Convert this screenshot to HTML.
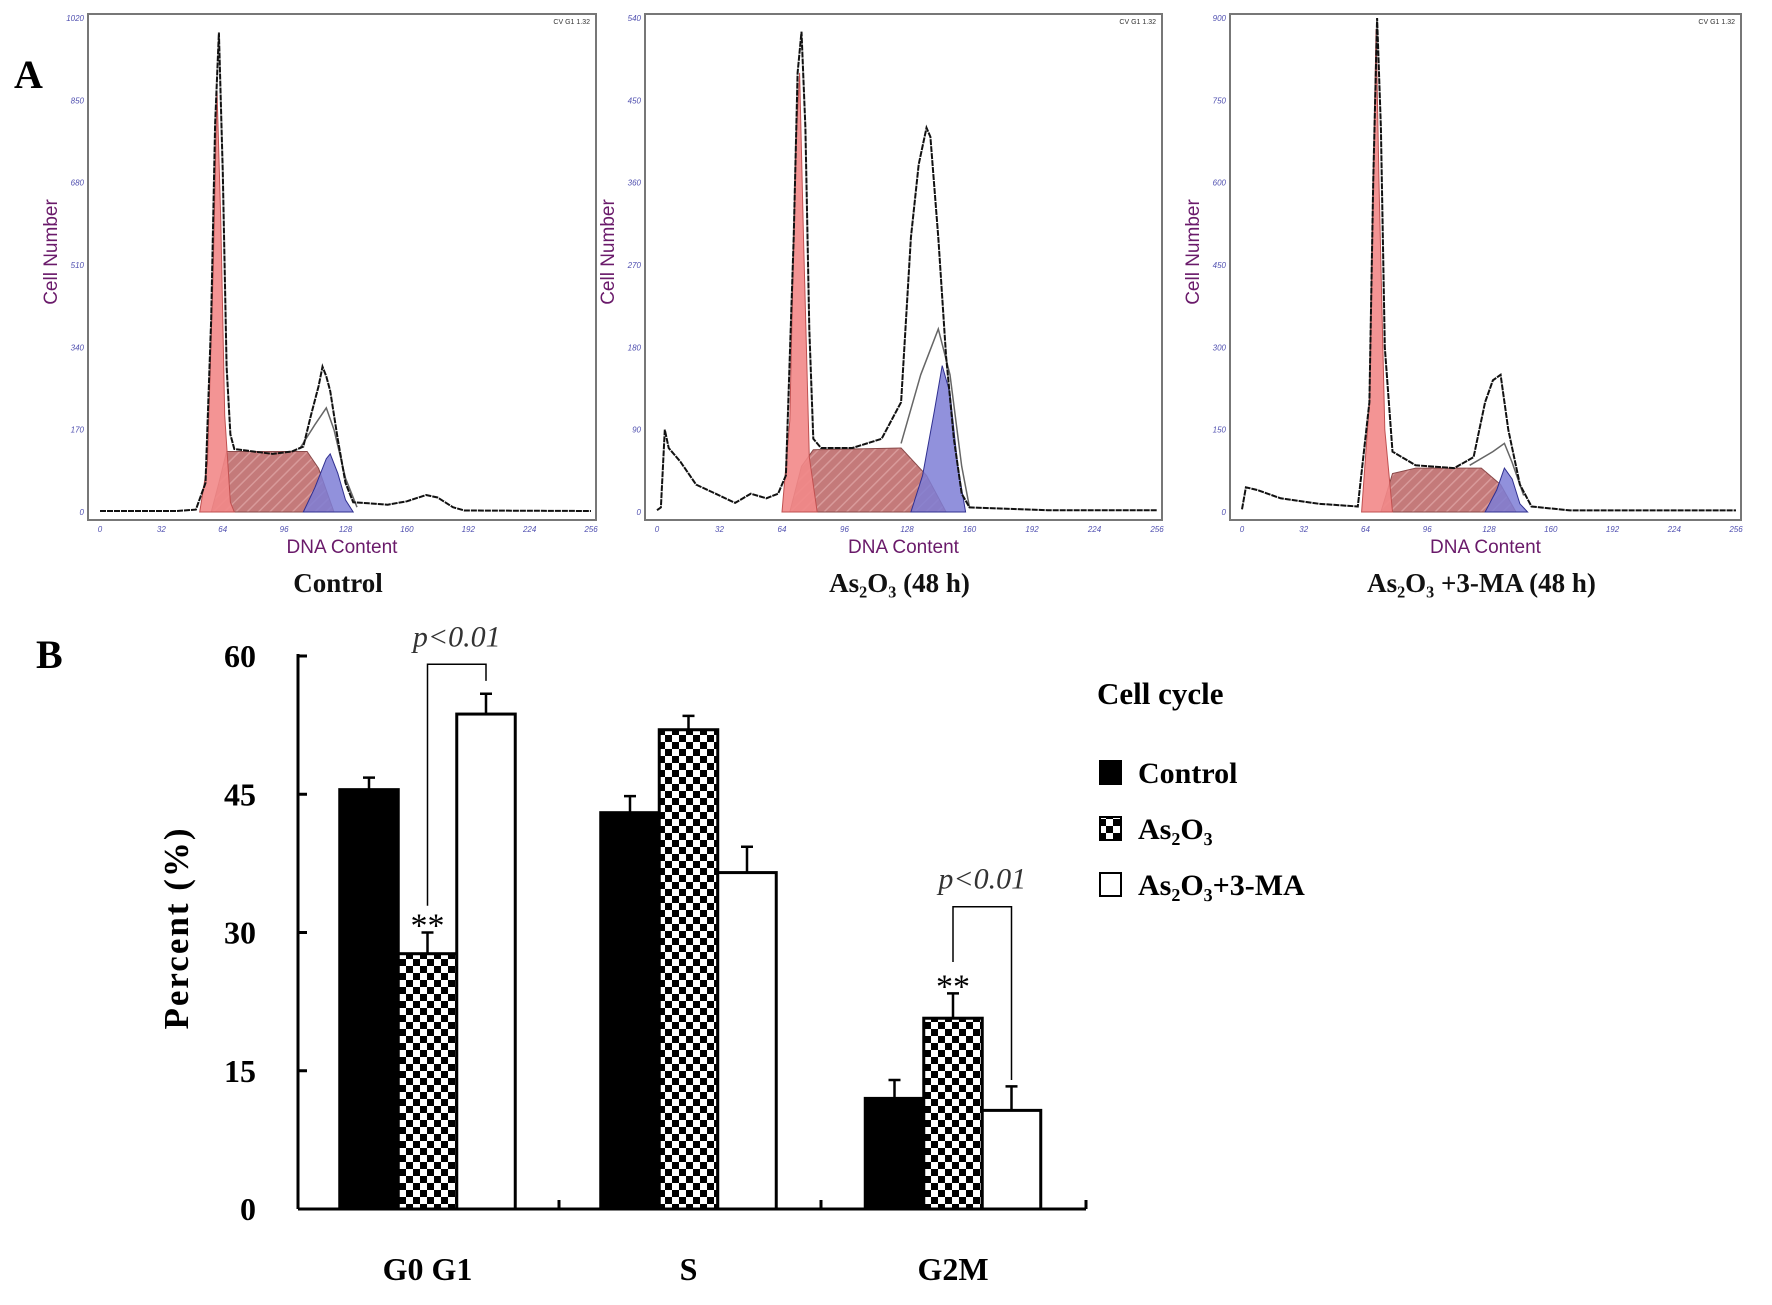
<!DOCTYPE html>
<html><head><meta charset="utf-8"><style>
html,body{margin:0;padding:0;background:#fff;}
svg{display:block;}
</style></head><body>
<svg id="fig" width="1772" height="1305" viewBox="0 0 1772 1305" xmlns="http://www.w3.org/2000/svg">
<defs>
<pattern id="checker" width="14" height="14" patternUnits="userSpaceOnUse">
<rect width="14" height="14" fill="#fff"/><rect width="7" height="7" fill="#000"/><rect x="7" y="7" width="7" height="7" fill="#000"/>
</pattern>
<pattern id="hatch" width="8" height="8" patternUnits="userSpaceOnUse" patternTransform="rotate(45)">
<rect width="8" height="8" fill="#c47a7a"/><line x1="0" y1="0" x2="0" y2="8" stroke="#d89a9a" stroke-width="3"/>
</pattern>
</defs>
<text x="14" y="88" font-family="Liberation Serif, serif" font-weight="bold" font-size="40">A</text>
<text x="36" y="668" font-family="Liberation Serif, serif" font-weight="bold" font-size="40">B</text>
<g id="hists"></g>
<g id="bars"></g>
</svg>
<script>
// ---------- Histogram data (A) ----------
const xTicks=[0,32,64,96,128,160,192,224,256];
const p1YTicks=[0,170,340,510,680,850,1020];
const p2YTicks=[0,90,180,270,360,450,540];
const p3YTicks=[0,150,300,450,600,750,900];
const p1Trace=[[0,2],[40,2],[50,5],[55,60],[58,400],[60,800],[62,990],[64,700],[66,300],[68,160],[70,130],[80,125],[90,120],[100,125],[106,135],[110,200],[114,260],[116,300],[118,280],[120,250],[124,150],[128,60],[132,20],[140,18],[150,15],[160,22],[170,35],[176,30],[184,10],[190,3],[256,2]];
const p1G1=[[52,0],[56,100],[59,500],[61,870],[63,600],[65,200],[68,20],[70,0]];
const p1S=[[58,0],[62,60],[66,125],[108,125],[114,90],[122,0]];
const p1G2=[[106,0],[112,50],[118,110],[120,120],[124,80],[128,25],[132,0]];
const p1Fit=[[104,130],[112,180],[118,215],[122,170],[128,70],[134,10]];
const p2Trace=[[0,2],[2,5],[4,90],[6,70],[12,55],[20,30],[30,20],[40,10],[48,20],[56,15],[62,20],[66,40],[70,300],[72,480],[74,525],[76,420],[78,200],[80,80],[84,70],[100,70],[115,80],[125,120],[130,300],[134,380],[138,420],[140,410],[144,300],[148,170],[152,80],[156,20],[160,5],[200,2],[256,2]];
const p2G1=[[64,0],[68,100],[71,400],[73,480],[75,300],[78,60],[82,0]];
const p2S=[[68,0],[74,50],[80,68],[125,70],[138,40],[148,0]];
const p2G2=[[130,0],[136,40],[142,110],[146,160],[150,130],[154,50],[158,0]];
const p2Fit=[[125,75],[135,150],[144,200],[150,150],[156,50],[160,5]];
const p3Trace=[[0,5],[2,45],[8,40],[20,25],[40,15],[60,10],[66,200],[68,600],[70,900],[72,700],[74,300],[78,110],[90,85],[110,80],[120,100],[126,200],[130,240],[134,250],[138,150],[144,50],[150,10],[170,3],[256,3]];
const p3G1=[[62,0],[66,200],[68,600],[69.5,880],[71,600],[74,150],[78,0]];
const p3S=[[72,0],[78,70],[90,80],[124,80],[134,50],[142,0]];
const p3G2=[[126,0],[132,40],[136,80],[140,60],[144,15],[148,0]];
const p3Fit=[[118,85],[130,110],[136,125],[140,90],[146,30]];
const captions=["Control","As₂O₃ (48 h)","As₂O₃ +3-MA (48 h)"];

// ---------- Bar data (B) ----------
const categories=["G0 G1","S","G2M"];
const seriesNames=["Control","As₂O₃","As₂O₃+3-MA"];
const controlVals=[45.5,43,12];
const as2o3Vals=[27.7,52,20.7];
const maVals=[53.7,36.5,10.7];
const controlErr=[1.3,1.8,2];
const as2o3Err=[2.3,1.5,2.7];
const maErr=[2.2,2.8,2.6];
const yTickVals=[0,15,30,45,60];
// brackets: [category, top value, left leg bottom value, right leg bottom value]
const bracketG0=[0,59.1,32.9,57.3];
const bracketG2M=[2,32.8,26.8,14];

const NS="http://www.w3.org/2000/svg";
function mk(tag,attrs,parent,text){const e=document.createElementNS(NS,tag);for(const k in attrs)e.setAttribute(k,attrs[k]);if(text!==undefined)e.textContent=text;parent.appendChild(e);return e;}

const hg=document.getElementById('hists');
const panels=[
 {box:[88,14,596,520],yt:p1YTicks,tr:p1Trace,g1:p1G1,s:p1S,g2:p1G2,fit:p1Fit},
 {box:[645,14,1162,520],yt:p2YTicks,tr:p2Trace,g1:p2G1,s:p2S,g2:p2G2,fit:p2Fit},
 {box:[1230,14,1741,520],yt:p3YTicks,tr:p3Trace,g1:p3G1,s:p3S,g2:p3G2,fit:p3Fit}
];
panels.forEach((p,i)=>{
 const [L,T,R,B]=p.box;
 const g=mk('g',{},hg);
 
 
 const x0=L+12,x1=R-5,y0=B-8,y1=T+4;
 const ymax=p.yt[p.yt.length-1];
 const sx=v=>x0+(v/256)*(x1-x0);
 const sy=v=>y0-(v/ymax)*(y0-y1);
 const pts=a=>a.map(q=>sx(q[0]).toFixed(1)+','+sy(q[1]).toFixed(1)).join(' ');
 const box=mk('rect',{x:L,y:T,width:R-L,height:B-T,fill:'#fff',stroke:'#777','stroke-width':2},g);
 
 const s=mk('polygon',{points:pts(p.s),fill:'url(#hatch)',stroke:'#8a4a4a','stroke-width':1},g);
 
 const g1=mk('polygon',{points:pts(p.g1),fill:'#f28888','fill-opacity':0.9,stroke:'#c05050','stroke-width':1},g);
 
 const g2=mk('polygon',{points:pts(p.g2),fill:'#7e7ed6','fill-opacity':0.85,stroke:'#303090','stroke-width':1},g);
 
 const fit=mk('polyline',{points:pts(p.fit),fill:'none',stroke:'#666','stroke-width':1.5},g);
 
 const tr=mk('polyline',{points:pts(p.tr),fill:'none',stroke:'#111','stroke-width':2,'stroke-dasharray':'6,1'},g);
 
 xTicks.forEach(v=>{const t=mk('text',{x:sx(v),y:B+12,'font-family':'Liberation Sans, sans-serif','font-size':8,'font-style':'italic',fill:'#5050b0','text-anchor':'middle'},g,String(v));
  });
 p.yt.forEach(v=>{const t=mk('text',{x:L-4,y:sy(v)+3,'font-family':'Liberation Sans, sans-serif','font-size':8,'font-style':'italic',fill:'#5050b0','text-anchor':'end'},g,String(v));
  });
 const cv=mk('text',{x:R-6,y:T+10,'font-family':'Liberation Sans, sans-serif','font-size':7,fill:'#333','text-anchor':'end'},g,'CV G1 1.32');
 
 const xl=mk('text',{x:(L+R)/2,y:553,'font-family':'Liberation Sans, sans-serif','font-size':19,fill:'#6a1a6a','text-anchor':'middle'},g,'DNA Content');
 
 const yl=mk('text',{x:0,y:0,'font-family':'Liberation Sans, sans-serif','font-size':19,fill:'#6a1a6a','text-anchor':'middle',transform:`translate(${L-31},${(T+B)/2-15}) rotate(-90)`},g,'Cell Number');
 
 const cap=mk('text',{x:(L+R)/2-4,y:592,'font-family':'Liberation Serif, serif','font-weight':'bold','font-size':27,fill:'#111','text-anchor':'middle'},g,captions[i]);
 
});

// ---------- Bar chart ----------
const bg=document.getElementById('bars');
const AX=298,AY0=1209,AY60=656,AXR=1086;
const y=v=>AY0-(v/60)*(AY0-AY60);
const groupCenters=[427.5,688.5,953];
const BW=58.5;
const F='Liberation Serif, serif';
yTickVals.forEach(v=>{
 const t=mk('line',{x1:AX,x2:AX+9,y1:y(v),y2:y(v),stroke:'#000','stroke-width':3},bg);
 
 const l=mk('text',{x:256,y:y(v)+11,'font-family':F,'font-weight':'bold','font-size':32,'text-anchor':'end'},bg,String(v));
 
});
const yt=mk('text',{x:0,y:0,'font-family':F,'font-weight':'bold','font-size':35,'text-anchor':'middle',transform:'translate(188,928) rotate(-90)','letter-spacing':'2'},bg,'Percent (%)');

const sets=[[controlVals,controlErr,'#000','bar-control'],[as2o3Vals,as2o3Err,'url(#checker)','bar-as2o3'],[maVals,maErr,'#fff','bar-as2o3-3ma']];
categories.forEach((c,ci)=>{
 sets.forEach((s,si)=>{
  const xl=groupCenters[ci]+(si-1.5)*BW;
  const v=s[0][ci],e=s[1][ci];
  const r=mk('rect',{x:xl,y:y(v),width:BW,height:AY0-y(v),fill:s[2],stroke:'#000','stroke-width':3},bg);
  
  const cx=xl+BW/2;
  const eb=mk('path',{d:`M${cx},${y(v)} V${y(v+e)} M${cx-6},${y(v+e)} H${cx+6}`,stroke:'#000','stroke-width':2.5,fill:'none'},bg);
  
 });
 const l=mk('text',{x:groupCenters[ci],y:1280,'font-family':F,'font-weight':'bold','font-size':32,'text-anchor':'middle'},bg,c);
 
});
const xa=mk('line',{x1:AX,x2:AXR,y1:AY0,y2:AY0,stroke:'#000','stroke-width':3},bg);

const ya=mk('line',{x1:AX,x2:AX,y1:AY60-2,y2:AY0,stroke:'#000','stroke-width':3},bg);

[559,821,AXR].forEach(xx=>{const t=mk('line',{x1:xx,x2:xx,y1:AY0,y2:AY0-9,stroke:'#000','stroke-width':3},bg);
 });
function bracket(b){
 const [ci,topV,leftV,rightV]=b;
 const xa_=groupCenters[ci], xb=groupCenters[ci]+BW;
 const p=mk('path',{d:`M${xa_},${y(leftV)} V${y(topV)} H${xb} V${y(rightV)}`,stroke:'#000','stroke-width':1.5,fill:'none'},bg);
 
 const t=mk('text',{x:(xa_+xb)/2,y:y(topV)-18,'font-family':F,'font-style':'italic','font-size':30,'text-anchor':'middle',fill:'#333'},bg,'p<0.01');
 
 const st=mk('text',{x:xa_,y:y(as2o3Vals[ci]+as2o3Err[ci])+4,'font-family':F,'font-size':34,'text-anchor':'middle'},bg,'**');
 
}
bracket(bracketG0);
bracket(bracketG2M);
const lt=mk('text',{x:1097,y:704,'font-family':F,'font-weight':'bold','font-size':31},bg,'Cell cycle');

const lfills=['#000','url(#checker)','#fff'];
seriesNames.forEach((n,i)=>{
 const yy=773+i*56;
 const g=mk('g',{},bg);
 
 mk('rect',{x:1100,y:yy-12,width:21,height:23,fill:lfills[i],stroke:'#000','stroke-width':2},g);
 mk('text',{x:1138,y:yy+10,'font-family':F,'font-weight':'bold','font-size':30},g,n);
});
</script>
</body></html>
